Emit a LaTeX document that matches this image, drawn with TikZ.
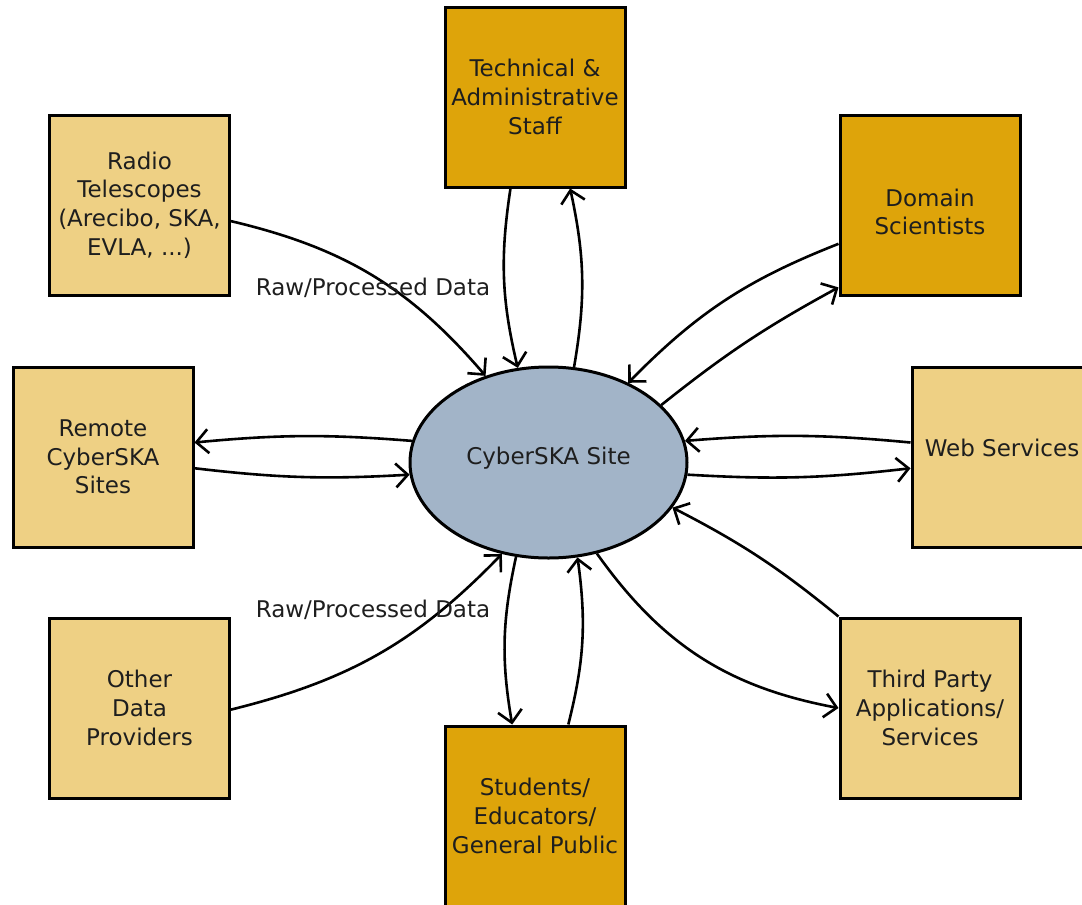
\documentclass[tikz,border=0pt]{standalone}
\usepackage{fontspec}
\setmainfont{DejaVu Sans}
\usetikzlibrary{arrows.meta,shapes.geometric}
\definecolor{lightbox}{RGB}{238,208,132}
\definecolor{darkbox}{RGB}{222,164,10}
\definecolor{ellfill}{RGB}{162,180,200}
\definecolor{txt}{RGB}{30,30,30}
\tikzset{
  base/.style={draw=black, line width=1.5pt, minimum width=90pt, minimum height=90pt, align=center, inner sep=1pt, text=txt, font=\fontsize{11.5}{14.3}\selectfont},
  lightnode/.style={base, fill=lightbox},
  darknode/.style={base, fill=darkbox},
  site/.style={ellipse, draw=black, line width=1.5pt, fill=ellfill, minimum width=138.5pt, minimum height=95.5pt, inner sep=0pt, text=txt, font=\fontsize{11.5}{14}\selectfont},
  conn/.style={line width=1.3pt, -{Straight Barb[length=6pt,width=12pt]}},
  lbl/.style={text=txt, font=\fontsize{11.5}{13}\selectfont, inner sep=0pt}
}
\begin{document}
\begin{tikzpicture}[x=0.5pt,y=-0.5pt]
\useasboundingbox (0,0) rectangle (1082,905);
\node[lightnode] (radio) at (139.5,205) {Radio\\Telescopes\\(Arecibo, SKA,\\EVLA, ...)};
\node[darknode] (tech) at (535,97) {Technical \&\\Administrative\\Staff};
\node[darknode, text height=30pt] (domain) at (930,205) {Domain\\Scientists};
\node[lightnode, text depth=9.5pt] (web) at (1002,457) {Web Services};
\node[lightnode] (remote) at (103,457) {Remote\\CyberSKA\\Sites};
\node[lightnode] (other) at (139.5,708) {Other\\Data\\Providers};
\node[darknode] (students) at (535,816) {Students/\\Educators/\\General Public};
\node[lightnode] (third) at (930,708) {Third Party\\Applications/\\Services};
\node[site, text depth=6.5pt] (site) at (548.5,462.5) {CyberSKA Site};

\draw[conn] (radio.-10.6) to[bend left=18] (site.126.8);
\draw[conn] (tech.-105.5) to[bend right=11] (site.108.8);
\draw[conn] (site.75.3) to[bend right=11] (tech.-69.4);
\draw[conn] (domain.-157.6) to[bend right=12] (site.45.4);
\draw[conn] (site.27) to[bend left=5] (domain.-138.6);
\draw[conn] (site.171.6) to[bend right=5] (remote.9.3);
\draw[conn] (remote.-7) to[bend right=5] (site.-175);
\draw[conn] (web.171.8) to[bend right=5] (site.9.3);
\draw[conn] (site.-5) to[bend right=5] (web.-173.8);
\draw[conn] (other.-1.3) to[bend right=16] (site.-117.8);
\draw[conn] (site.-109) to[bend right=11] (students.104);
\draw[conn] (students.70.4) to[bend right=11] (site.-73.6);
\draw[conn] (site.-62.4) to[bend right=22] (third.180);
\draw[conn] (third.north west) to[bend right=6] (site.-20.4);

\node[lbl] (lbltop) at (373,288) {Raw/Processed Data};
\node[lbl] (lblbot) at (373,610) {Raw/Processed Data};
\end{tikzpicture}
\end{document}
